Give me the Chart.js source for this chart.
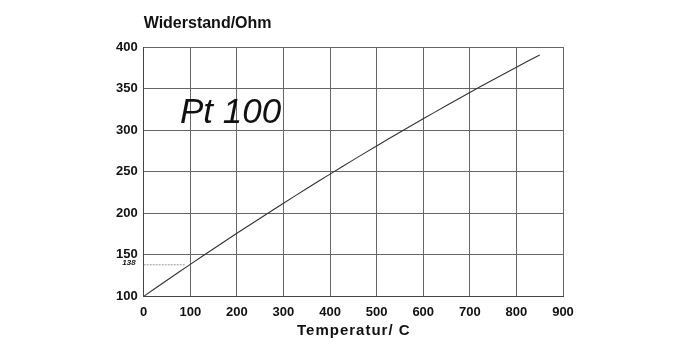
<!DOCTYPE html>
<html>
<head>
<meta charset="utf-8">
<script src="https://cdn.jsdelivr.net/npm/chart.js@4.4.1/dist/chart.umd.min.js"></script>
<style>
html,body{margin:0;padding:0;background:#fff;}
canvas{display:block;}
</style>
</head>
<body>
<canvas id="c" width="686" height="352"></canvas>
<script>
const temperatures = [0, 50, 100, 150, 200, 250, 300, 350, 400, 450, 500, 550, 600, 650, 700, 750, 800, 850];
const resistances = [100, 119.4, 138.5, 157.3, 175.9, 194.1, 212.1, 229.7, 247.1, 264.2, 281.0, 297.5, 313.7, 329.6, 345.3, 360.6, 375.7, 390.5];
const refTemps = [0, 90];
const refValues = [138, 138];
const xTicks = [0, 100, 200, 300, 400, 500, 600, 700, 800, 900];
const yTicks = [100, 150, 200, 250, 300, 350, 400];
const yTitle = 'Widerstand/Ohm';
const xTitle = 'Temperatur/ C';
const curveLabel = 'Pt 100';
const refLabel = '138';

const FONT = '"Liberation Sans", Arial, sans-serif';

const textPlugin = {
  id: 'texts',
  afterDraw(chart) {
    const ctx = chart.ctx, a = chart.chartArea, xs = chart.scales.x, ys = chart.scales.y;
    ctx.save();
    ctx.fillStyle = '#111';
    ctx.font = 'bold 16px ' + FONT;
    ctx.textAlign = 'left';
    ctx.textBaseline = 'alphabetic';
    ctx.fillText(yTitle, a.left, 28);
    ctx.font = 'bold 15px ' + FONT;
    ctx.letterSpacing = '1px';
    ctx.textAlign = 'left';
    ctx.fillText(xTitle, 297, 335);
    ctx.letterSpacing = '0px';
    ctx.font = 'italic 35px ' + FONT;
    ctx.textAlign = 'left';
    ctx.fillText(curveLabel, xs.getPixelForValue(78), ys.getPixelForValue(308.5));
    ctx.font = 'bold italic 8px ' + FONT;
    ctx.textAlign = 'right';
    ctx.textBaseline = 'middle';
    ctx.fillText(refLabel, a.left - 8, ys.getPixelForValue(138) - 2);
    ctx.restore();
  }
};

new Chart(document.getElementById('c'), {
  type: 'line',
  data: {
    datasets: [
      {
        data: temperatures.map((t, i) => ({x: t, y: resistances[i]})),
        borderColor: '#333',
        borderWidth: 1.1,
        pointRadius: 0,
        tension: 0.3,
        fill: false
      },
      {
        data: refTemps.map((t, i) => ({x: t, y: refValues[i]})),
        borderColor: '#999',
        borderWidth: 1,
        borderDash: [2, 1],
        pointRadius: 0,
        fill: false
      }
    ]
  },
  options: {
    responsive: false,
    animation: false,
    devicePixelRatio: 1,
    layout: {padding: {left: 110, right: 123, top: 47, bottom: 24}},
    plugins: {legend: {display: false}, tooltip: {enabled: false}},
    scales: {
      x: {
        type: 'linear', min: 0, max: 900,
        afterBuildTicks(s) { s.ticks = xTicks.map(v => ({value: v})); },
        grid: {color: '#666', lineWidth: 1, drawTicks: false},
        border: {color: '#444', width: 1},
        ticks: {color: '#111', padding: 8, font: {family: FONT, size: 13, weight: 'bold'}}
      },
      y: {
        type: 'linear', min: 100, max: 400,
        afterBuildTicks(s) { s.ticks = yTicks.map(v => ({value: v})); },
        grid: {color: '#666', lineWidth: 1, drawTicks: false},
        border: {color: '#444', width: 1},
        ticks: {color: '#111', padding: 6, font: {family: FONT, size: 13, weight: 'bold'}}
      }
    }
  },
  plugins: [textPlugin]
});
</script>
</body>
</html>
